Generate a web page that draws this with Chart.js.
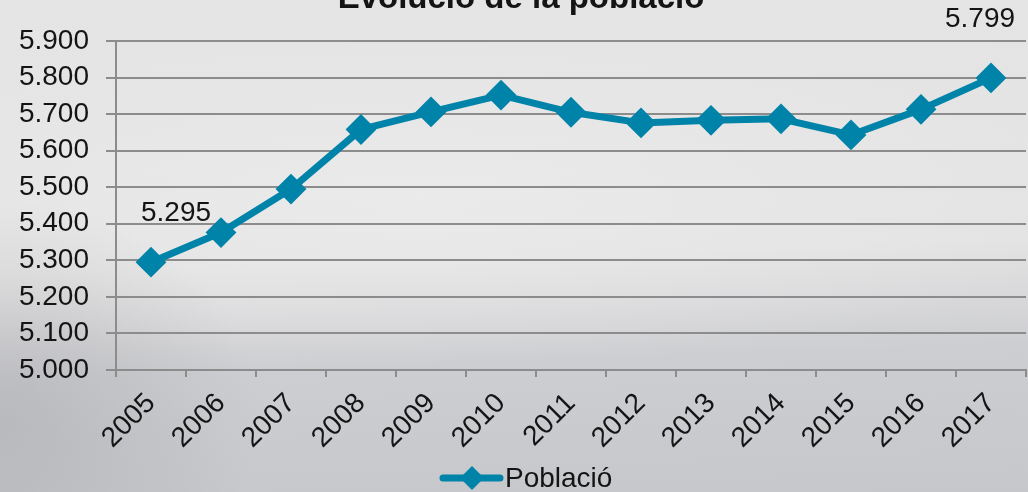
<!DOCTYPE html>
<html>
<head>
<meta charset="utf-8">
<script src="https://cdn.jsdelivr.net/npm/chart.js@4/dist/chart.umd.min.js"></script>
<style>
  html, body { margin: 0; padding: 0; }
  body {
    width: 1028px; height: 492px; overflow: hidden;
    background:
      radial-gradient(ellipse 260px 220px at 0px 420px, rgba(150,150,155,0.35), rgba(150,150,155,0) 100%),
      radial-gradient(ellipse 700px 160px at 420px 200px, rgba(240,240,240,0.55), rgba(240,240,240,0) 100%),
      linear-gradient(178deg, #e5e5e5 0%, #e3e3e3 52%, #d9d9db 62%, #cdced1 72%, #c6c7ca 100%);
  }
  #wrap { position: absolute; left: 0; top: 0; width: 1028px; height: 492px; }
</style>
</head>
<body>
<div id="wrap"><canvas id="c" width="1028" height="492"></canvas></div>
<script>
const chartTitle = 'Evolució de la població';
const seriesName = 'Població';
const years = ['2005','2006','2007','2008','2009','2010','2011','2012','2013','2014','2015','2016','2017'];
const population = [5295, 5376, 5495, 5658, 5706, 5752, 5705, 5676, 5683, 5687, 5643, 5713, 5799];
const labelledIndices = [0, 12];
const yMin = 5000, yMax = 5900, yStep = 100;

const LINE = '#0083a9';
const GRID = '#8c8c8c';
const TEXT = '#141414';
const FONT = '"Liberation Sans", Arial, sans-serif';

function fmt(v) { return (v / 1000).toFixed(3); }

const overlay = {
  id: 'overlay',
  afterDraw(chart) {
    const ctx = chart.ctx;
    const meta = chart.getDatasetMeta(0);
    ctx.save();
    ctx.fillStyle = TEXT;
    ctx.font = 'bold 33px ' + FONT;
    ctx.textAlign = 'center';
    ctx.textBaseline = 'alphabetic';
    ctx.fillText(chartTitle, 521, 8);
    ctx.font = '28px ' + FONT;
    labelledIndices.forEach((i, k) => {
      const pt = meta.data[i];
      const dx = k === 0 ? 25 : -11;
      const dy = k === 0 ? -41 : -51;
      ctx.fillText(fmt(population[i]), pt.x + dx, pt.y + dy);
    });
    const lx = 443, lx2 = 500, ly = 478, cx = 472;
    ctx.strokeStyle = LINE;
    ctx.lineWidth = 7;
    ctx.lineCap = 'round';
    ctx.beginPath(); ctx.moveTo(lx, ly); ctx.lineTo(lx2, ly); ctx.stroke();
    ctx.fillStyle = LINE;
    ctx.beginPath();
    ctx.moveTo(cx - 12, ly); ctx.lineTo(cx, ly - 12); ctx.lineTo(cx + 12, ly); ctx.lineTo(cx, ly + 12);
    ctx.closePath(); ctx.fill();
    ctx.fillStyle = TEXT;
    ctx.textAlign = 'left';
    ctx.textBaseline = 'middle';
    ctx.fillText(seriesName, 505, ly + 1);
    ctx.restore();
  }
};

new Chart(document.getElementById('c'), {
  type: 'line',
  data: {
    labels: years,
    datasets: [{
      label: seriesName,
      data: population,
      borderColor: LINE,
      backgroundColor: LINE,
      borderWidth: 7,
      pointStyle: 'rectRot',
      pointRadius: 14,
      pointHoverRadius: 14,
      pointBorderWidth: 2,
      pointBorderColor: LINE,
      pointBackgroundColor: LINE,
      tension: 0,
      clip: false,
      borderJoinStyle: 'round'
    }]
  },
  options: {
    responsive: false,
    devicePixelRatio: 1,
    animation: false,
    events: [],
    layout: { autoPadding: false, padding: { top: 41, right: 2, left: 0, bottom: 0 } },
    plugins: {
      legend: { display: false },
      title: { display: false },
      tooltip: { enabled: false }
    },
    scales: {
      x: {
        offset: true,
        grid: { drawOnChartArea: false, offset: true, color: GRID, lineWidth: 2, tickLength: 7 },
        border: { color: GRID, width: 2 },
        ticks: {
          font: { family: FONT, size: 28 },
          color: TEXT,
          minRotation: 45, maxRotation: 45,
          padding: 10,
          autoSkip: false
        },
        afterFit(s) { s.height = 122; s.paddingLeft = 0; s.paddingRight = 0; }
      },
      y: {
        min: yMin, max: yMax,
        grid: { color: GRID, lineWidth: 2, tickLength: 10 },
        border: { color: GRID, width: 2 },
        ticks: {
          stepSize: yStep,
          autoSkip: false,
          font: { family: FONT, size: 28 },
          color: TEXT,
          padding: 17,
          callback: v => fmt(v)
        },
        afterFit(s) { s.width = 116; }
      }
    }
  },
  plugins: [overlay]
});
</script>
</body>
</html>
